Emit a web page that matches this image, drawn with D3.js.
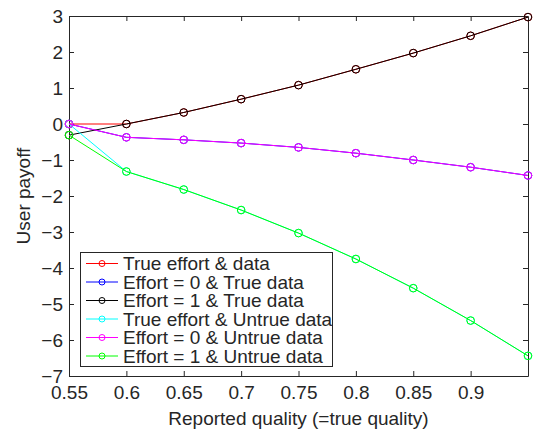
<!DOCTYPE html>
<html>
<head>
<meta charset="utf-8">
<script src="https://cdn.jsdelivr.net/npm/d3@7"></script>
<style>
  body { margin: 0; background: #fff; }
  svg text { font-family: "Liberation Sans", Arial, sans-serif; fill: #262626; }
</style>
</head>
<body>
<div id="chart"></div>
<script>
// data
var quality = [0.55, 0.6, 0.65, 0.7, 0.75, 0.8, 0.85, 0.9, 0.95];
var trueEffortData      = [0, 0, 0.32, 0.69, 1.08, 1.52, 1.97, 2.45, 2.97];
var effort0TrueData     = [0, -0.37, -0.44, -0.53, -0.65, -0.81, -1.0, -1.2, -1.43];
var effort1TrueData     = [-0.31, 0, 0.32, 0.69, 1.08, 1.52, 1.97, 2.45, 2.97];
var trueEffortUntrue    = [0, -1.32, -1.82, -2.39, -3.03, -3.75, -4.56, -5.46, -6.44];
var effort0UntrueData   = [0, -0.37, -0.44, -0.53, -0.65, -0.81, -1.0, -1.2, -1.43];
var effort1UntrueData   = [-0.31, -1.32, -1.82, -2.39, -3.03, -3.75, -4.56, -5.46, -6.44];

var seriesNames = ["True effort & data", "Effort = 0 & True data", "Effort = 1 & True data",
                   "True effort & Untrue data", "Effort = 0 & Untrue data", "Effort = 1 & Untrue data"];
var seriesColors = ["#ff0000", "#0000ff", "#000000", "#00ffff", "#ff00ff", "#00ff00"];
var seriesValues = [trueEffortData, effort0TrueData, effort1TrueData,
                    trueEffortUntrue, effort0UntrueData, effort1UntrueData];

var xTicks = [0.55, 0.6, 0.65, 0.7, 0.75, 0.8, 0.85, 0.9];
var yTicks = [-7, -6, -5, -4, -3, -2, -1, 0, 1, 2, 3];

var svgWidth = 539;
var svgHeight = 433;
var margin = {top: 16, right: 11, bottom: 57, left: 69};
var width = svgWidth - margin.left - margin.right;
var height = svgHeight - margin.top - margin.bottom;
var axisColor = "#262626";
var fontSize = "19px";

var svg = d3.select("#chart")
    .append("svg")
    .attr("width", svgWidth)
    .attr("height", svgHeight);

var g = svg.append("g")
    .attr("transform", `translate(${margin.left}, ${margin.top})`);

var x = d3.scaleLinear().domain([0.55, 0.95]).range([0, width]);
var y = d3.scaleLinear().domain([-7, 3]).range([height, 0]);

// axes, ticks pointing inward, mirrored on top and right
function styleAxis(sel) {
    sel.selectAll("path, line").attr("stroke", axisColor).attr("stroke-width", 1);
    sel.selectAll("text").style("font-size", fontSize).attr("fill", axisColor);
}

g.append("g")
    .attr("transform", `translate(0, ${height})`)
    .call(d3.axisBottom(x).tickValues(xTicks).tickSizeInner(-5).tickSizeOuter(0).tickPadding(10)
        .tickFormat(d3.format("")))
    .call(styleAxis);

g.append("g")
    .call(d3.axisTop(x).tickValues(xTicks).tickSizeInner(-5).tickSizeOuter(0).tickFormat(""))
    .call(styleAxis);

g.append("g")
    .call(d3.axisLeft(y).tickValues(yTicks).tickSizeInner(-5).tickSizeOuter(0).tickPadding(6)
        .tickFormat(d3.format("")))
    .call(styleAxis);

g.append("g")
    .attr("transform", `translate(${width}, 0)`)
    .call(d3.axisRight(y).tickValues(yTicks).tickSizeInner(-5).tickSizeOuter(0).tickFormat(""))
    .call(styleAxis);

// series
var line = d3.line()
    .x((d, i) => x(quality[i]))
    .y(d => y(d));

seriesValues.forEach(function (vals, k) {
    g.append("path")
        .datum(vals)
        .attr("fill", "none")
        .attr("stroke", seriesColors[k])
        .attr("stroke-width", 1)
        .attr("d", line);

    g.selectAll(null)
        .data(vals)
        .enter()
        .append("circle")
        .attr("cx", (d, i) => x(quality[i]))
        .attr("cy", d => y(d))
        .attr("r", 3.8)
        .attr("fill", "none")
        .attr("stroke", seriesColors[k])
        .attr("stroke-width", 1);
});

// axis labels
g.append("text")
    .attr("x", width / 2)
    .attr("y", height + 49)
    .attr("text-anchor", "middle")
    .style("font-size", fontSize)
    .text("Reported quality (=true quality)");

g.append("text")
    .attr("transform", "rotate(-90)")
    .attr("x", -height / 2)
    .attr("y", -39)
    .attr("text-anchor", "middle")
    .style("font-size", fontSize)
    .text("User payoff");

// legend
var legend = svg.append("g").attr("transform", "translate(80, 252)");
legend.append("rect")
    .attr("x", 0.5).attr("y", 0.5)
    .attr("width", 252).attr("height", 114)
    .attr("fill", "#fff")
    .attr("stroke", axisColor)
    .attr("stroke-width", 1);

var rows = legend.selectAll(".row")
    .data(seriesNames)
    .enter()
    .append("g")
    .attr("transform", (d, i) => `translate(0, ${11.5 + i * 18.5})`);

rows.append("line")
    .attr("x1", 6).attr("x2", 38)
    .attr("stroke", (d, i) => seriesColors[i])
    .attr("stroke-width", 1);

rows.append("circle")
    .attr("cx", 22).attr("r", 3)
    .attr("fill", "none")
    .attr("stroke", (d, i) => seriesColors[i])
    .attr("stroke-width", 1);

rows.append("text")
    .attr("x", 43)
    .attr("dy", "0.35em")
    .style("font-size", fontSize)
    .attr("fill", "#000")
    .text(d => d);
</script>
</body>
</html>
